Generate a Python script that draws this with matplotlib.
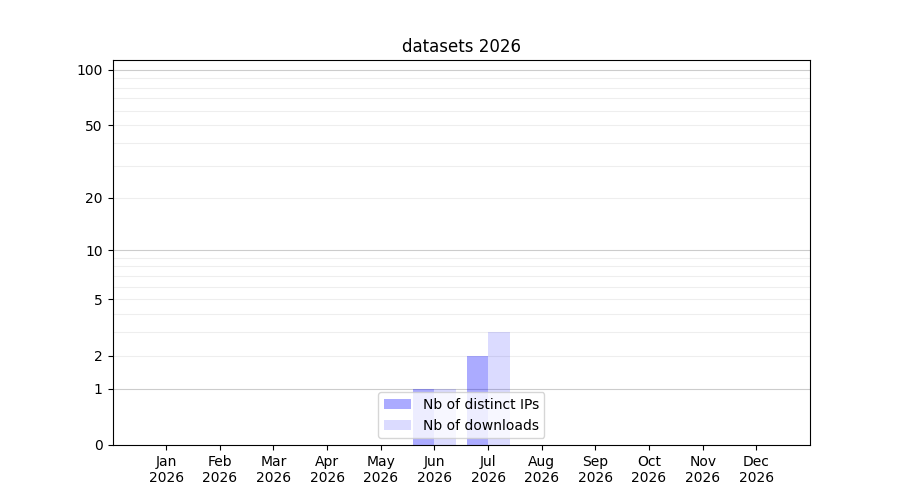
import matplotlib
matplotlib.use("Agg")
import matplotlib.pyplot as plt
import numpy as np

months = ["Jan", "Feb", "Mar", "Apr", "May", "Jun", "Jul", "Aug", "Sep", "Oct", "Nov", "Dec"]
year = "2026"
distinct_ips = [0, 0, 0, 0, 0, 1, 2, 0, 0, 0, 0, 0]
downloads = [0, 0, 0, 0, 0, 1, 3, 0, 0, 0, 0, 0]
ytick_vals = [0, 1, 2, 5, 10, 20, 50, 100]

fig, ax = plt.subplots(figsize=(9, 5), dpi=100)

def fwd(v):
    return np.log10(1 + np.clip(v, 0, None))

def inv(v):
    return 10 ** v - 1

ax.set_yscale("function", functions=(fwd, inv))

x = np.arange(len(months))
w = 0.4
ax.bar(x - w / 2, distinct_ips, width=w, color="blue", alpha=0.33, label="Nb of distinct IPs", zorder=2)
ax.bar(x + w / 2, downloads, width=w, color="blue", alpha=0.14, label="Nb of downloads", zorder=2)

ax.set_xlim(-1, 12)
ax.set_ylim(0, 113)
ax.set_xticks(x)
ax.set_xticklabels([f"{m}\n{year}" for m in months])
ax.set_yticks(ytick_vals)
ax.set_yticklabels([str(v) for v in ytick_vals])
ax.minorticks_off()

minor = [v for d in (1, 10) for v in range(2 * d, 10 * d, d)]
for v in minor:
    ax.axhline(v, color="#eeeeee", lw=0.8, zorder=0)
for v in (1, 10, 100):
    ax.axhline(v, color="#cccccc", lw=0.8, zorder=0)

ax.set_title("datasets 2026")
ax.legend(loc="lower center")
fig.savefig("out.png")
